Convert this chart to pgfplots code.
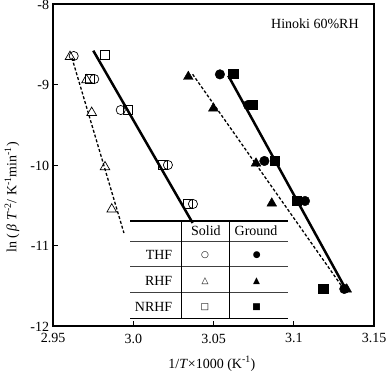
\documentclass[border=0pt]{standalone}
\usepackage{pgfplots}
\pgfplotsset{compat=1.18}
\usepackage{fontspec}
\setmainfont{Liberation Serif}
\newfontfamily\symfont{DejaVu Sans}
\begin{document}
\begin{tikzpicture}
\begin{axis}[
  at={(0,0)}, anchor=south west,
  scale only axis, width=321pt, height=322pt,
  xmin=2.95, xmax=3.15, ymin=-12, ymax=-8,
  xtick={2.95,3.0,3.05,3.1,3.15}, xticklabels={2.95,3.0,3.05,3.1,3.15},
  ytick={-12,-11,-10,-9,-8}, yticklabels={-12,-11,-10,-9,-8},
  tick pos=left, tick align=inside, major tick length=5pt,
  axis line style={line width=2.6pt},
  tick style={line width=0.8pt, black},
  font=\fontsize{14}{16}\selectfont,
  xticklabel style={inner sep=1pt, yshift=-6.5pt},
  yticklabel style={inner sep=1pt, xshift=-2.7pt, yshift=-0.8pt},
  xlabel={1/\textit{T}×1000 (K\textsuperscript{-1})},
  ylabel={ln (\,\textit{β T}\textsuperscript{-2}/ K\textsuperscript{-1}min\textsuperscript{-1})},
  every axis x label/.style={at={(axis description cs:0.495,-0.117)}, anchor=center},
  every axis y label/.style={at={(axis description cs:-0.128,0.40)}, rotate=90, anchor=center},
  clip=false,
]
% Solid (open markers)
\addplot[only marks, mark=o, mark size=4.6pt, mark options={fill=white, draw=black, line width=0.7pt}]
  coordinates {(2.9629,-8.646) (2.9757,-8.932) (2.9922,-9.317) (3.0216,-10.0) (3.0372,-10.484)};
\addplot[only marks, mark=square, mark size=4.6pt, mark options={fill=white, draw=black, line width=0.7pt}]
  coordinates {(2.9824,-8.634) (2.9730,-8.932) (2.9967,-9.317) (3.0186,-10.0) (3.0341,-10.484)};
\addplot[only marks, mark=triangle, mark size=5.6pt, mark options={fill=white, draw=black, line width=0.7pt}]
  coordinates {(2.9606,-8.655) (2.9709,-8.944) (2.9741,-9.35) (2.9824,-10.025) (2.9866,-10.55)};
% Ground (filled markers)
\addplot[only marks, mark=*, mark size=4.8pt, mark options={fill=black, draw=black}]
  coordinates {(3.0540,-8.874) (3.0715,-9.255) (3.0817,-9.95) (3.1070,-10.447) (3.1315,-11.54)};
\addplot[only marks, mark=square*, mark size=4.6pt, mark options={fill=black, draw=black}]
  coordinates {(3.0623,-8.861) (3.0746,-9.255) (3.0879,-9.950) (3.1020,-10.447) (3.1184,-11.54)};
\addplot[only marks, mark=triangle*, mark size=5.6pt, mark options={fill=black, draw=black}]
  coordinates {(3.0343,-8.903) (3.0499,-9.296) (3.0765,-9.979) (3.0863,-10.476) (3.1330,-11.544)};
% Fit lines
\addplot[no marks, line width=2.5pt, black] coordinates {(2.9751,-8.580) (3.0370,-10.72)};
\addplot[no marks, line width=1.3pt, black, dash pattern=on 3pt off 2pt] coordinates {(2.9618,-8.67) (2.9942,-10.845)};
\addplot[no marks, line width=2.5pt, black] coordinates {(3.0592,-8.89) (3.1332,-11.57)};
\addplot[no marks, line width=1.3pt, black, dash pattern=on 3pt off 2pt] coordinates {(3.0370,-8.873) (3.1320,-11.565)};
% annotation
\node[anchor=center] at (axis description cs:0.816,0.938) {Hinoki 60\%RH};
% legend table
\draw[line width=1.3pt] (2.998,-10.696) -- (3.0964,-10.696);
\draw[line width=0.8pt, black!75] (2.998,-10.953) -- (3.0964,-10.953);
\draw[line width=0.8pt, black!75] (2.998,-11.264) -- (3.0964,-11.264);
\draw[line width=0.8pt, black!75] (2.998,-11.587) -- (3.0964,-11.587);
\draw[line width=1.3pt] (2.998,-11.904) -- (3.0964,-11.904);
\draw[line width=0.8pt] (3.0302,-10.696) -- (3.0302,-11.904);
\draw[line width=0.8pt] (3.0598,-10.696) -- (3.0598,-11.904);
\node at (3.0453,-10.816) {Solid};
\node at (3.0765,-10.816) {Ground};
\node[anchor=east] at (3.0265,-11.118) {THF};
\node[anchor=east] at (3.0265,-11.437) {RHF};
\node[anchor=east] at (3.0265,-11.760) {NRHF};
\node at (3.0447,-11.118) {\symfont\fontsize{9}{10}\selectfont ○};
\node at (3.0447,-11.437) {\symfont\fontsize{9}{10}\selectfont △};
\node at (3.0447,-11.760) {\symfont\fontsize{9}{10}\selectfont □};
\node at (3.0769,-11.118) {\symfont\fontsize{9}{10}\selectfont ●};
\node at (3.0769,-11.437) {\symfont\fontsize{9}{10}\selectfont ▲};
\node at (3.0769,-11.760) {\symfont\fontsize{9}{10}\selectfont ■};
\end{axis}
\pgfresetboundingbox
\path[use as bounding box] (-53pt,-48pt) rectangle (334pt,326pt);
\end{tikzpicture}
\end{document}
